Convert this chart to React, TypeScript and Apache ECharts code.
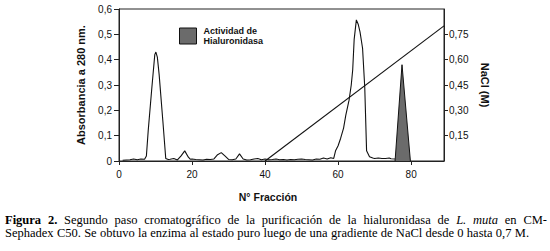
import React, { useEffect, useRef } from "react";
import * as echarts from "echarts";

// Absorbance at 280 nm per fraction
const absFractions = [1,2,3,4,5,6,7,7.5,8,9,9.8,10.1,10.5,11,12,12.8,13.5,14,15,16,17,18,19,19.5,20,21,22,23,24,25,26,27,28,29,30,31,32,33,34,35,36,37,38,39,40,41,42,43,44,45,46,47,48,49,50,51,52,53,54,55,56,57,58,58.8,59.3,60,60.7,61.5,62.1,63,63.6,64,64.4,65,65.5,66,66.7,67.3,67.8,68.6,69.5,70,71,72,73,74,74.5,75.6];
const absValues = [0.003,0.004,0.005,0.008,0.005,0.008,0.007,0.02,0.12,0.29,0.42,0.43,0.41,0.34,0.16,0.01,0.006,0.007,0.01,0.004,0.02,0.04,0.015,0.007,0.008,0.006,0.005,0.004,0.007,0.006,0.008,0.025,0.033,0.02,0.006,0.005,0.008,0.028,0.008,0.004,0.005,0.008,0.01,0.005,0.008,0.005,0.006,0.008,0.005,0.006,0.004,0.006,0.005,0.007,0.008,0.006,0.005,0.004,0.008,0.007,0.012,0.008,0.013,0.01,0.04,0.06,0.09,0.13,0.18,0.24,0.3,0.36,0.48,0.557,0.54,0.51,0.445,0.29,0.04,0.017,0.012,0.01,0.012,0.01,0.01,0.012,0.009,0.008];

// Hyaluronidase activity (in absorbance-axis units)
const actFractions = [75.6, 77.5, 79.8];
const actValues = [0, 0.38, 0];

// NaCl gradient (M)
const naclFractions = [40, 89];
const naclValues = [0, 0.8];

const xTicks = [0, 20, 40, 60, 80];
const leftTicks = [0, 0.1, 0.2, 0.3, 0.4, 0.5, 0.6];
const rightTicks = [0.15, 0.3, 0.45, 0.6, 0.75];

const legendName = "Actividad de\nHialuronidasa";

type Word = { t: string; w?: "bold" | "normal"; s?: "italic" | "normal" };
const captionLine1: Word[] = [
  { t: "Figura", w: "bold" }, { t: "2.", w: "bold" },
  { t: "Segundo" }, { t: "paso" }, { t: "cromatográfico" }, { t: "de" }, { t: "la" },
  { t: "purificación" }, { t: "de" }, { t: "la" }, { t: "hialuronidasa" }, { t: "de" },
  { t: "L.", s: "italic" }, { t: "muta", s: "italic" }, { t: "en" }, { t: "CM-" },
];
const captionLine2: Word[] = "Sephadex C50. Se obtuvo la enzima al estado puro luego de una gradiente de NaCl desde 0 hasta 0,7 M."
  .split(" ").map((t) => ({ t }));

const SERIF = "'Liberation Serif', 'Times New Roman', serif";
const SANS = "'Liberation Sans', Arial, sans-serif";

function justify(words: Word[], x0: number, x1: number, y: number, size: number) {
  const c = document.createElement("canvas").getContext("2d")!;
  const widths = words.map((wd) => {
    c.font = `${wd.s || "normal"} ${wd.w || "normal"} ${size}px ${SERIF}`;
    return c.measureText(wd.t).width;
  });
  const total = widths.reduce((a, b) => a + b, 0);
  const gap = (x1 - x0 - total) / (words.length - 1);
  let x = x0;
  return words.map((wd, i) => {
    const el = {
      type: "text",
      x,
      y,
      style: {
        text: wd.t,
        fontFamily: SERIF,
        fontSize: size,
        fontWeight: wd.w || "normal",
        fontStyle: wd.s || "normal",
        fill: "#000",
        verticalAlign: "middle",
        align: "left",
      },
    };
    x += widths[i] + gap;
    return el;
  });
}

export default function App() {
  const ref = useRef<HTMLDivElement>(null);
  useEffect(() => {
    if (!ref.current) return;
    const chart = echarts.init(ref.current, undefined, { renderer: "svg" });
    const fmt = (v: number, d: number) => (v === 0 ? "0" : v.toFixed(d).replace(".", ","));
    chart.setOption({
      animation: false,
      backgroundColor: "#fff",
      grid: {
        left: 119, right: 106, top: 9, bottom: 90,
        show: true, borderColor: "#222", borderWidth: 1, backgroundColor: "transparent",
      },
      legend: {
        data: [{ name: legendName, icon: "rect" }],
        left: 179, top: 26, padding: 0,
        itemWidth: 17, itemHeight: 16, itemGap: 0,
        itemStyle: { color: "#6b6b6b", borderColor: "#111", borderWidth: 1 },
        textStyle: { fontFamily: SANS, fontSize: 9, fontWeight: "bold", color: "#111", lineHeight: 10, padding: [0, 0, 0, 2] },
        selectedMode: false,
      },
      xAxis: {
        type: "value", min: 0, max: 89, interval: 20,
        name: "N° Fracción", nameLocation: "middle", nameGap: 30,
        nameTextStyle: { fontFamily: SANS, fontSize: 10.5, fontWeight: "bold", color: "#111", padding: [0, 27, 0, 0] },
        axisLine: { lineStyle: { color: "#222", width: 1 } },
        axisTick: { show: true, length: 4, lineStyle: { color: "#222" }, customValues: xTicks },
        axisLabel: { fontFamily: SANS, fontSize: 10, color: "#111", margin: 8, customValues: xTicks },
        splitLine: { show: false },
      },
      yAxis: [
        {
          type: "value", min: 0, max: 0.6, interval: 0.1,
          name: "Absorbancia a 280 nm.", nameLocation: "middle", nameGap: 33,
          nameTextStyle: { fontFamily: SANS, fontSize: 11, fontWeight: "bold", color: "#111" },
          axisLine: { show: true, lineStyle: { color: "#222", width: 1 } },
          axisTick: { show: true, length: 5, lineStyle: { color: "#222" }, customValues: leftTicks },
          axisLabel: { fontFamily: SANS, fontSize: 10, color: "#111", margin: 7, formatter: (v: number) => fmt(v, 1), customValues: leftTicks },
          splitLine: { show: false },
        },
        {
          type: "value", min: 0, max: 0.9, interval: 0.15, position: "right",
          name: "NaCl (M)", nameLocation: "middle", nameGap: 33, nameRotate: -90,
          nameTextStyle: { fontFamily: SANS, fontSize: 11, fontWeight: "bold", color: "#111" },
          axisLine: { show: true, lineStyle: { color: "#222", width: 1 } },
          axisTick: { show: true, length: 4, lineStyle: { color: "#222" }, customValues: rightTicks },
          axisLabel: { fontFamily: SANS, fontSize: 10, color: "#111", margin: 5, formatter: (v: number) => fmt(v, 2), customValues: rightTicks },
          splitLine: { show: false },
        },
      ],
      series: [
        {
          name: "Absorbancia", type: "line", yAxisIndex: 0,
          data: absFractions.map((f, i) => [f, absValues[i]]),
          showSymbol: false, symbol: "none",
          lineStyle: { color: "#111", width: 1.1 },
          itemStyle: { color: "#111" },
          z: 3,
        },
        {
          name: legendName, type: "line", yAxisIndex: 0,
          data: actFractions.map((f, i) => [f, actValues[i]]),
          showSymbol: false, symbol: "none",
          lineStyle: { color: "#111", width: 1 },
          areaStyle: { color: "#6b6b6b", opacity: 1 },
          itemStyle: { color: "#6b6b6b" },
          z: 2,
        },
        {
          name: "NaCl", type: "line", yAxisIndex: 1,
          data: naclFractions.map((f, i) => [f, naclValues[i]]),
          showSymbol: false, symbol: "none",
          lineStyle: { color: "#111", width: 1.1 },
          itemStyle: { color: "#111" },
          z: 4,
        },
      ],
      graphic: [
        ...justify(captionLine1, 5, 547, 220, 12.5),
        ...justify(captionLine2, 5, 529, 233, 12.5),
      ],
    });
    return () => chart.dispose();
  }, []);
  return (
    <div
      ref={ref}
      style={{ position: "fixed", left: 0, top: 0, width: 550, height: 251, background: "#fff" }}
    />
  );
}
